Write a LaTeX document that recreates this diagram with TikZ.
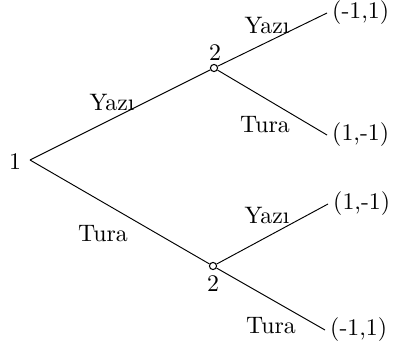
\documentclass[tikz,border=0pt]{standalone}
\begin{document}
\begin{tikzpicture}[x=0.42pt,y=-0.42pt,
  dec/.style={circle,draw,inner sep=0pt,minimum size=3pt,line width=0.45pt},
  edge/.style={line width=0.4pt},
  lab/.style={inner sep=1pt},
  pay/.style={anchor=west,inner sep=2pt}]
\useasboundingbox (0,0) rectangle (393,344);
\coordinate (r) at (30,160);
\node[dec] (a) at (214,68) {};
\node[dec] (b) at (213,266) {};
\coordinate (l1) at (327,13);
\coordinate (l2) at (327,135);
\coordinate (l3) at (328,204);
\coordinate (l4) at (325,330);
\draw[edge] (r) -- (a);
\draw[edge] (r) -- (b);
\draw[edge] (a) -- (l1);
\draw[edge] (a) -- (l2);
\draw[edge] (b) -- (l3);
\draw[edge] (b) -- (l4);
\node[lab] (t1) at (15,162) {1};
\node[lab] (t2) at (215,53) {2};
\node[lab] (t3) at (213,284) {2};
\node[lab] (y1) at (112,102) {Yaz\i};
\node[lab] (y2) at (267,25) {Yaz\i};
\node[lab] (u1) at (265,125) {Tura};
\node[lab] (u2) at (103,234) {Tura};
\node[lab] (y3) at (267,215) {Yaz\i};
\node[lab] (u3) at (271,326) {Tura};
\node[pay] (p1) at (l1) {(-1,1)};
\node[pay] (p2) at (l2) {(1,-1)};
\node[pay] (p3) at (l3) {(1,-1)};
\node[pay] (p4) at (l4) {(-1,1)};
\end{tikzpicture}
\end{document}
